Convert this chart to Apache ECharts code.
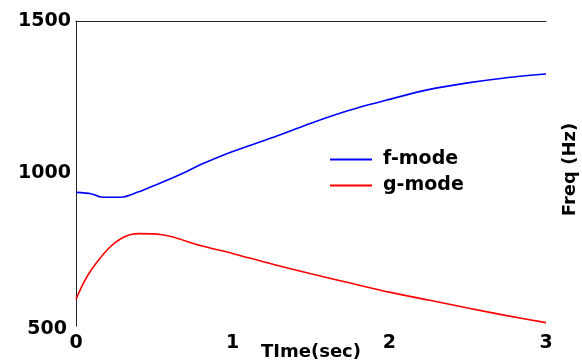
<!DOCTYPE html>
<html>
<head>
<meta charset="utf-8">
<script src="https://cdn.jsdelivr.net/npm/echarts@6/dist/echarts.min.js"></script>
<style>
  html, body { margin: 0; padding: 0; background: #fff; }
  #chart { width: 582px; height: 363px; }
</style>
</head>
<body>
<div id="chart"></div>
<script>
// Mode frequencies versus time
const timeF = [0, 0.1, 0.15, 0.2, 0.3, 0.4, 0.5, 0.6, 0.7, 0.8, 1.0, 1.25, 1.5, 1.75, 2.0, 2.25, 2.5, 2.75, 3.0];
const freqF = [938, 933, 924, 922, 923, 940, 961, 982, 1005, 1030, 1072, 1117, 1165, 1208, 1243, 1275, 1297, 1314, 1326];

const timeG = [0, 0.05, 0.1, 0.15, 0.2, 0.25, 0.3, 0.35, 0.4, 0.5, 0.6, 0.8, 1.0, 1.25, 1.5, 1.75, 2.0, 2.25, 2.5, 2.75, 3.0];
const freqG = [588, 643, 686, 720, 750, 773, 790, 800, 803, 802, 794, 763, 738, 703, 671, 641, 611, 585, 559, 534, 511];

const xTicks = [0, 1, 2, 3];
const yTicks = [500, 1000, 1500];

const FONT = '"DejaVu Sans", sans-serif';
const pairs = (xs, ys) => xs.map((x, i) => [x, ys[i]]);

const chart = echarts.init(document.getElementById('chart'), null, { renderer: 'canvas' });
chart.setOption({
  animation: false,
  backgroundColor: '#ffffff',
  grid: { left: 76, right: 36, top: 21, bottom: 37, containLabel: false, outerBoundsMode: 'none' },
  legend: {
    orient: 'vertical',
    left: 330,
    top: 150,
    padding: 0,
    itemWidth: 42,
    itemHeight: 20,
    itemGap: 7,
    icon: 'path://M0,9 L42,9 L42,11 L0,11 Z',
    textStyle: { fontFamily: FONT, fontWeight: 'bold', fontSize: 19, color: '#000', padding: [0, 0, 0, 6] },
    data: ['f-mode', 'g-mode']
  },
  xAxis: [{
    type: 'value',
    min: xTicks[0],
    max: xTicks[xTicks.length - 1],
    interval: 1,
    name: 'TIme(sec)',
    nameLocation: 'middle',
    nameGap: 17,
    nameMoveOverlap: false,
    nameTextStyle: { fontFamily: FONT, fontWeight: 'bold', fontSize: 18, color: '#000' },
    axisLine: { show: false },
    axisTick: { show: false },
    splitLine: { show: false },
    axisLabel: { margin: 8, fontFamily: FONT, fontWeight: 'bold', fontSize: 19, color: '#000', formatter: v => String(v) }
  }, {
    type: 'value',
    position: 'top',
    min: xTicks[0],
    max: xTicks[xTicks.length - 1],
    axisLine: { show: true, onZero: false, lineStyle: { color: '#222', width: 1 } },
    axisTick: { show: false },
    axisLabel: { show: false },
    splitLine: { show: false }
  }],
  yAxis: [{
    type: 'value',
    min: yTicks[0],
    max: yTicks[yTicks.length - 1],
    interval: 500,
    axisLine: { show: true, onZero: false, lineStyle: { color: '#222', width: 1 } },
    axisTick: { show: false },
    splitLine: { show: false },
    axisLabel: {
      margin: 5, fontFamily: FONT, fontWeight: 'bold', fontSize: 19, color: '#000',
      // the bottom label sits a little lower and further left than the others
      formatter: v => (v === yTicks[0] ? '{low|' + v + '}' : String(v)),
      rich: { low: { fontFamily: FONT, fontWeight: 'bold', fontSize: 19, color: '#000', padding: [7, 4, 0, 0] } }
    }
  }, {
    type: 'value',
    position: 'right',
    min: yTicks[0],
    max: yTicks[yTicks.length - 1],
    name: 'Freq (Hz)',
    nameLocation: 'middle',
    nameRotate: 90,
    nameGap: 15,
    nameMoveOverlap: false,
    nameTextStyle: { fontFamily: FONT, fontWeight: 'bold', fontSize: 18, color: '#000', padding: [0, 0, 0, 8] },
    axisLine: { show: false },
    axisTick: { show: false },
    axisLabel: { show: false },
    splitLine: { show: false }
  }],
  series: [{
    name: 'f-mode',
    type: 'line',
    data: pairs(timeF, freqF),
    showSymbol: false,
    smooth: 0.3,
    color: '#0000ff',
    lineStyle: { color: '#0000ff', width: 1.6 }
  }, {
    name: 'g-mode',
    type: 'line',
    data: pairs(timeG, freqG),
    showSymbol: false,
    smooth: 0.3,
    color: '#ff0000',
    lineStyle: { color: '#ff0000', width: 1.6 }
  }]
});
</script>
</body>
</html>
